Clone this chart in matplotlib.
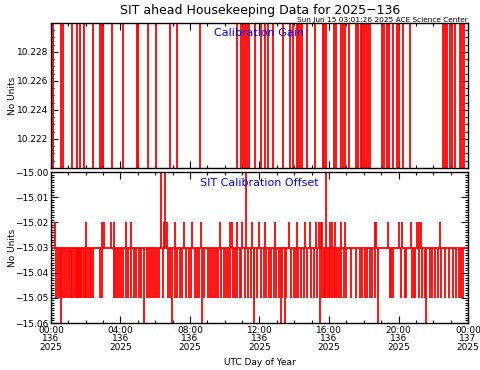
import matplotlib
matplotlib.use("Agg")
import matplotlib.pyplot as plt
from matplotlib.ticker import MultipleLocator, FixedLocator

# ---------------- data (hours of day 136) ----------------
gain_low, gain_high = 10.220, 10.230
# times where calibration gain switches (full-height spikes)
gain_spike_times = [0.10, 0.56, 0.67, 1.21, 1.52, 1.65, 1.90, 2.44, 2.84, 2.94, 3.01,
                    3.49, 4.12, 4.93, 5.01, 5.58, 6.02, 6.87, 7.25, 8.60,
                    10.70, 10.95, 11.05, 11.15, 11.26, 11.41, 11.72, 12.07,
                    12.33, 12.49, 12.78, 13.35, 13.77, 13.91, 14.14, 14.23, 14.33, 14.43,
                    14.75, 15.18, 15.64, 15.73, 15.83, 16.29, 16.40, 16.71, 16.82, 16.94,
                    17.13, 17.55, 17.67, 17.82, 17.90, 18.03, 18.11, 18.26, 18.38,
                    19.05, 19.15, 19.32, 19.44, 19.67, 19.93, 20.03, 20.26, 20.64,
                    22.56, 22.68, 22.79, 22.95, 23.10, 23.25, 23.56, 23.65, 23.77]

offset_base = -15.03
offset_up_level = -15.02
offset_up_times = [0.21, 2.03, 2.95, 3.05, 3.47, 3.63, 4.30, 4.59, 6.50, 6.68, 7.16, 7.65,
                   8.12, 8.61, 9.75, 10.32, 10.42, 10.72, 11.01, 11.55, 11.95,
                   12.33, 12.91, 13.70, 14.16, 14.64, 14.89, 15.23, 15.42, 15.52, 15.61,
                   16.04, 16.19, 16.36, 16.67, 16.94, 18.63, 18.72, 19.40, 20.01, 20.20,
                   20.70, 21.08, 21.18, 21.28, 22.37]
offset_top_level = -14.99
offset_top_times = [6.31, 6.58, 11.20, 15.85]
offset_down_level = -15.05
offset_down_times = [0.31, 0.40, 0.52, 0.71, 0.82, 0.94, 1.04, 1.13, 1.23, 1.32, 1.42, 1.50,
                     1.55, 1.61, 1.69, 1.75, 1.82, 1.94, 2.01, 2.13, 2.23, 2.32, 2.40, 2.84,
                     2.94, 3.61, 3.70, 3.82, 3.91, 4.05, 4.14, 4.34, 4.43, 4.62, 4.78, 4.87,
                     5.05, 5.20, 5.53, 5.64, 5.77, 5.89, 5.97, 6.10, 6.20, 6.45, 6.73, 6.85,
                     7.12, 7.25, 7.41, 7.54, 7.79, 7.92, 8.08, 8.27, 8.38, 8.50, 8.81, 9.04,
                     9.17, 9.27, 9.36, 9.48, 9.61, 9.80, 9.94, 10.05, 10.19, 10.32, 10.47,
                     10.57, 10.69, 10.86, 10.95, 11.15, 11.34, 11.51, 11.70, 11.87,
                     12.11, 12.24, 12.39, 12.55, 12.68, 12.82, 12.97, 13.10, 13.30, 13.54,
                     13.83, 13.99, 14.08, 14.22, 14.37, 14.54, 14.73, 14.95, 15.12, 15.33,
                     15.60, 15.69, 15.79, 15.88, 15.98, 16.08, 16.17, 16.27, 16.36, 16.46,
                     16.56, 16.71, 16.84, 17.00, 17.25, 17.57, 17.76, 17.90, 18.05, 18.21,
                     18.36, 18.49, 18.67, 19.49, 19.59, 19.68, 20.16, 20.35, 20.45, 20.78,
                     20.87, 20.97, 21.18, 21.35, 21.51, 21.79, 21.93, 22.08, 22.27, 22.47,
                     22.66, 22.89, 23.14, 23.33, 23.46, 23.58, 23.71]
offset_bottom_level = -15.07
offset_bottom_times = [0.59, 5.35, 6.96, 8.71, 11.67, 13.22, 13.45, 15.46, 18.82, 21.60]

xtick_hours = [0, 4, 8, 12, 16, 20, 24]
xtick_labels = ["00:00\n136\n2025", "04:00\n136\n2025", "08:00\n136\n2025",
                "12:00\n136\n2025", "16:00\n136\n2025", "20:00\n136\n2025",
                "00:00\n137\n2025"]

title = "SIT ahead Housekeeping Data for 2025\u2212136"
stamp = "Sun Jun 15 03:01:26 2025 ACE Science Center"

# ---------------- figure ----------------
plt.rcParams['font.family'] = ['DejaVu Sans']
fig = plt.figure(figsize=(4.81, 3.70), dpi=100)
ax1 = fig.add_axes([0.106, 0.546, 0.867, 0.392])
ax2 = fig.add_axes([0.106, 0.127, 0.867, 0.408])

red = "#ff0000"
lw = 1.3

ax1.vlines(gain_spike_times, gain_low - 0.001, gain_high + 0.001, color=red, lw=lw)
ax1.set_ylim(gain_low, gain_high)
ax1.yaxis.set_major_locator(FixedLocator([10.222, 10.224, 10.226, 10.228]))
ax1.yaxis.set_minor_locator(MultipleLocator(0.0005))
ax1.set_yticklabels(["10.222", "10.224", "10.226", "10.228"])

ax2.hlines(offset_base, 0, 24, color=red, lw=lw)
ax2.vlines(offset_up_times, offset_base, offset_up_level, color=red, lw=lw)
ax2.vlines(offset_top_times, offset_base, offset_top_level, color=red, lw=lw)
ax2.vlines(offset_down_times, offset_down_level, offset_base, color=red, lw=lw)
ax2.vlines(offset_bottom_times, offset_bottom_level, offset_base, color=red, lw=lw)
ax2.set_ylim(-15.06, -15.00)
yt = [-15.06, -15.05, -15.04, -15.03, -15.02, -15.01, -15.00]
ax2.yaxis.set_major_locator(FixedLocator(yt))
ax2.yaxis.set_minor_locator(MultipleLocator(0.001))
ax2.set_yticklabels([("%.2f" % v).replace("-", "\u2212") for v in yt])

for ax in (ax1, ax2):
    ax.set_xlim(0, 24)
    ax.xaxis.set_major_locator(FixedLocator(xtick_hours))
    ax.xaxis.set_minor_locator(MultipleLocator(1))
    ax.tick_params(which='both', direction='in', top=True, right=True,
                   labelsize=6.5, width=0.8, pad=2)
    ax.tick_params(which='major', length=5)
    ax.tick_params(which='minor', length=2.5)
    for s in ax.spines.values():
        s.set_linewidth(1.0)
    ax.set_ylabel("No Units", fontsize=6.5)
    ax.yaxis.set_label_coords(-0.082, 0.5)

ax1.set_xticklabels([])
ax2.set_xticklabels(xtick_labels, linespacing=0.95)
fig.text(0.54, 0.019, "UTC Day of Year", fontsize=6.5, ha='center', va='center')

ax1.text(0.5, 0.93, "Calibration Gain", transform=ax1.transAxes, color="blue",
         fontsize=8, ha='center', va='center')
ax2.text(0.5, 0.93, "SIT Calibration Offset", transform=ax2.transAxes, color="blue",
         fontsize=8, ha='center', va='center')

fig.text(0.54, 0.972, title, fontsize=9, ha='center', va='center')
fig.text(0.973, 0.947, stamp, fontsize=5.3, ha='right', va='center')

fig.savefig("out.png", dpi=100)
